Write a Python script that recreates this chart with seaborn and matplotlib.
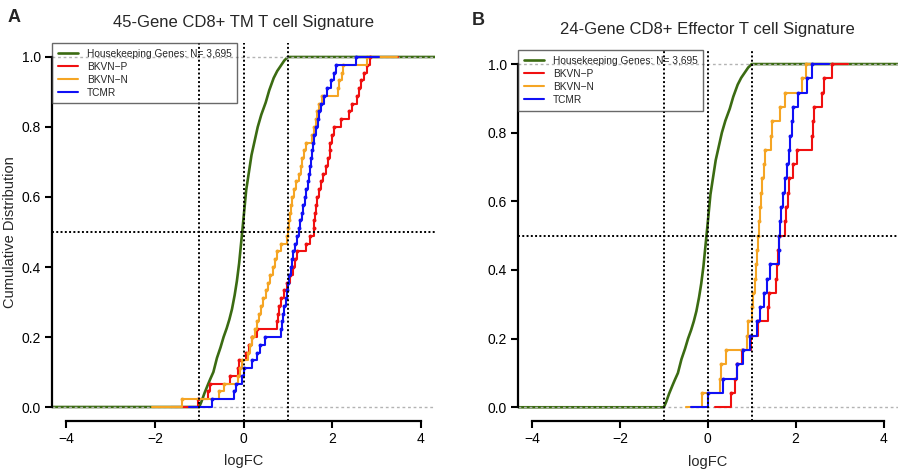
import numpy as np
import pandas as pd
import matplotlib
matplotlib.use("Agg")
import matplotlib.pyplot as plt
import seaborn as sns

# housekeeping genes (N = 3,695), cdf
hk_logfc = [-1.00, -0.95, -0.88, -0.80, -0.75, -0.68, -0.60, -0.52, -0.45, -0.38,
            -0.32, -0.26, -0.20, -0.15, -0.10, -0.03, 0.00, 0.06, 0.12, 0.18,
            0.25, 0.32, 0.40, 0.50, 0.58, 0.68, 0.76, 0.84, 0.92, 1.00]
hk_cdf = [0.0, 0.015, 0.04, 0.065, 0.08, 0.10, 0.14, 0.17, 0.20, 0.225,
          0.25, 0.28, 0.32, 0.36, 0.41, 0.50, 0.54, 0.62, 0.67, 0.72,
          0.76, 0.80, 0.835, 0.87, 0.905, 0.94, 0.96, 0.975, 0.99, 1.0]

# panel A: 45-gene CD8+ TM T cell signature, logFC per gene
a_bkvn_p = [-1.02, -0.80, -0.76, -0.31, -0.12, -0.10, 0.05, 0.12, 0.20, 0.31,
            0.76, 0.78, 0.81, 0.84, 0.91, 0.98, 1.05, 1.12, 1.16, 1.20,
            1.40, 1.49, 1.59, 1.60, 1.62, 1.64, 1.66, 1.70, 1.74, 1.80,
            1.85, 1.90, 1.94, 1.96, 2.00, 2.04, 2.19, 2.38, 2.45, 2.56,
            2.60, 2.64, 2.71, 2.79, 2.86]
a_bkvn_n = [-1.39, -0.56, -0.44, -0.12, -0.09, -0.03, 0.10, 0.15, 0.20, 0.26,
            0.30, 0.35, 0.40, 0.45, 0.50, 0.55, 0.60, 0.66, 0.70, 0.76,
            0.84, 0.99, 1.00, 1.02, 1.04, 1.06, 1.10, 1.13, 1.18, 1.25,
            1.30, 1.32, 1.36, 1.40, 1.55, 1.60, 1.63, 1.66, 1.70, 1.78,
            2.12, 2.15, 2.22, 2.25, 2.79]
a_tcmr = [-0.72, -0.22, -0.17, -0.03, 0.02, 0.20, 0.31, 0.38, 0.48, 0.84,
          0.86, 0.88, 0.91, 0.95, 0.98, 1.01, 1.03, 1.06, 1.09, 1.12,
          1.16, 1.20, 1.25, 1.28, 1.31, 1.35, 1.38, 1.42, 1.45, 1.48,
          1.50, 1.52, 1.55, 1.57, 1.59, 1.63, 1.67, 1.70, 1.74, 1.82,
          1.89, 1.97, 2.03, 2.08, 2.53]

# panel B: 24-gene CD8+ effector T cell signature
b_bkvn_p = [0.53, 0.62, 0.66, 0.77, 0.98, 1.14, 1.38, 1.40, 1.55, 1.57,
            1.59, 1.62, 1.76, 1.78, 1.82, 1.84, 1.95, 2.02, 2.38, 2.40,
            2.42, 2.60, 2.65, 2.83]
b_bkvn_n = [-0.13, 0.28, 0.30, 0.41, 0.89, 0.92, 1.00, 1.04, 1.08, 1.10,
            1.12, 1.15, 1.17, 1.19, 1.21, 1.23, 1.27, 1.30, 1.44, 1.47,
            1.64, 1.76, 2.15, 2.23]
b_tcmr = [0.00, 0.35, 0.66, 0.79, 0.96, 1.11, 1.19, 1.27, 1.34, 1.41,
          1.61, 1.62, 1.64, 1.66, 1.72, 1.76, 1.80, 1.84, 1.88, 1.92,
          1.95, 2.06, 2.25, 2.37]

groups = ["BKVN\u2212P", "BKVN\u2212N", "TCMR"]
colors = {"BKVN\u2212P": "#F01010", "BKVN\u2212N": "#F5A524", "TCMR": "#1010F5"}
hk_color = "#3B6B12"
hk_label = "Housekeeping Genes: N= 3,695"


def ecdf_tables(vals):
    knots, counts = np.unique(vals, return_counts=True)
    cdf = np.cumsum(counts) / len(vals)
    # same padding that R's plot.stepfun puts on both ends
    dr = max(0.08 * (knots[-1] - knots[0]), np.median(np.diff(knots)))
    steps = pd.DataFrame({"logFC": np.r_[knots[0] - 2 * dr, knots, knots[-1] + 2 * dr],
                          "cdf": np.r_[0, cdf, 1]})
    pts = pd.DataFrame({"logFC": knots, "cdf": cdf})
    return steps, pts


def panel(ax, data, title):
    # housekeeping curve, extended like R does with xlim = c(-4, 4)
    hk = pd.DataFrame({"logFC": np.r_[-12, hk_logfc, 12], "cdf": np.r_[0, hk_cdf, 1]})
    sns.lineplot(data=hk, x="logFC", y="cdf", color=hk_color, lw=1.9,
                 estimator=None, sort=False, label=hk_label, ax=ax, zorder=2)
    for yy in (0, 1):
        ax.axhline(yy, color="#b3b3b3", ls=(0, (2, 2)), lw=1, zorder=2.5)

    for i, g in enumerate(groups):
        steps, pts = ecdf_tables(data[g])
        sns.lineplot(data=steps, x="logFC", y="cdf", color=colors[g], lw=1.5,
                     drawstyle="steps-post", estimator=None, sort=False,
                     label=g, ax=ax, zorder=3 + i)
        sns.scatterplot(data=pts, x="logFC", y="cdf", color=colors[g], s=8,
                        linewidth=0, ax=ax, zorder=3 + i, legend=False)

    for xx in (-1, 0, 1):
        ax.axvline(xx, color="black", ls=(0, (1, 1.2)), lw=1.4, zorder=8)
    ax.axhline(0.5, color="black", ls=(0, (1, 1.2)), lw=1.4, zorder=8)

    ax.set_xlim(-4.32, 4.32)
    ax.set_ylim(-0.04, 1.04)
    ax.set_xticks([-4, -2, 0, 2, 4])
    ax.set_yticks([0, 0.2, 0.4, 0.6, 0.8, 1.0])
    ax.set_yticklabels(["0.0", "0.2", "0.4", "0.6", "0.8", "1.0"])
    for s in ("top", "right"):
        ax.spines[s].set_visible(False)
    ax.spines["left"].set_bounds(0, 1)
    ax.spines["bottom"].set_bounds(-4, 4)
    for s in ("left", "bottom"):
        ax.spines[s].set_linewidth(1.6)
        ax.spines[s].set_color("black")
    ax.tick_params(direction="out", length=5, width=1.5, labelsize=10,
                   pad=3, colors="black")
    ax.set_title(title, fontsize=12, pad=11.5)
    ax.set_xlabel("logFC", fontsize=10.5)
    ax.set_ylabel("")

    leg = ax.legend(loc="upper left", bbox_to_anchor=(0, 1), borderaxespad=0,
                    fontsize=7.3, frameon=True, fancybox=False, edgecolor="#444444",
                    handlelength=2.0, handletextpad=0.9, labelspacing=0.3,
                    borderpad=0.55)
    leg.get_frame().set_facecolor("none")
    leg.get_frame().set_linewidth(1.0)
    leg.set_zorder(10)


sns.set_style("ticks")
plt.rcParams["font.family"] = ["Liberation Sans", "DejaVu Sans"]

fig = plt.figure(figsize=(9, 4.74), dpi=100)
ax_a = fig.add_axes([0.0578, 0.1118, 0.4256, 0.7975])
ax_b = fig.add_axes([0.5756, 0.1118, 0.4217, 0.782])

panel(ax_a, {"BKVN\u2212P": a_bkvn_p, "BKVN\u2212N": a_bkvn_n, "TCMR": a_tcmr},
      "45-Gene CD8+ TM T cell Signature")
panel(ax_b, {"BKVN\u2212P": b_bkvn_p, "BKVN\u2212N": b_bkvn_n, "TCMR": b_tcmr},
      "24-Gene CD8+ Effector T cell Signature")

ax_a.set_ylabel("Cumulative Distribution", fontsize=10.5)
ax_a.yaxis.set_label_coords(-0.092, 0.5)
ax_a.xaxis.set_label_coords(0.5, -0.088)
ax_b.xaxis.set_label_coords(0.5, -0.093)

fig.text(0.008, 0.982, "A", fontsize=13, fontweight="bold", va="top")
fig.text(0.524, 0.975, "B", fontsize=13, fontweight="bold", va="top")

fig.savefig("out.png", dpi=100)
